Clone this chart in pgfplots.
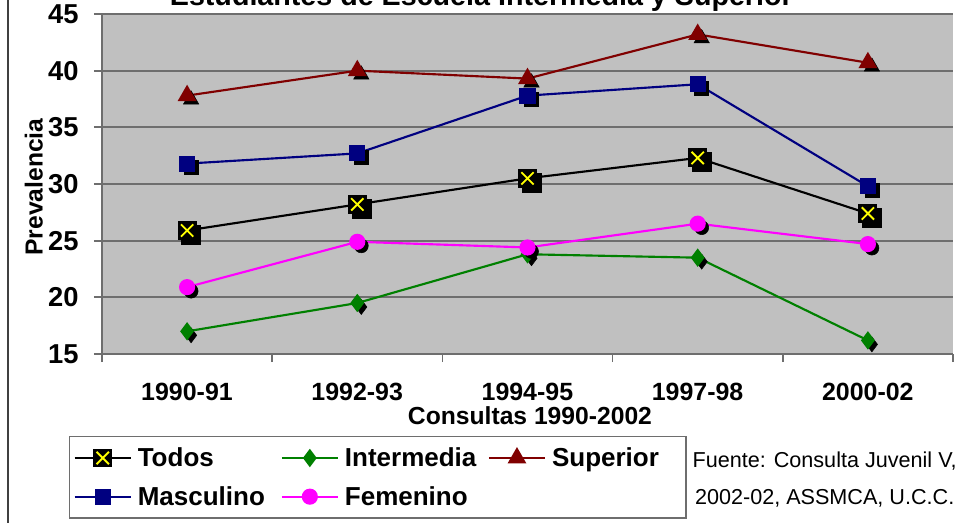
\documentclass[border=0pt]{standalone}
\usepackage{fontspec}
\setmainfont{Liberation Sans}
\usepackage{pgfplots}
\usepackage{pgfplotstable}
\pgfplotsset{compat=1.18}

\definecolor{plotbg}{HTML}{C0C0C0}
\definecolor{gridc}{HTML}{6E6E6E}
\definecolor{framec}{HTML}{404040}
\definecolor{supc}{HTML}{800000}
\definecolor{masc}{HTML}{000080}
\definecolor{intc}{HTML}{008000}
\definecolor{femc}{HTML}{FF00FF}
\definecolor{xyel}{HTML}{FFFF00}

% black square with a yellow cross (series "Todos")
\pgfdeclareplotmark{boxx}{%
  \pgfpathrectangle{\pgfqpoint{-\pgfplotmarksize}{-\pgfplotmarksize}}{\pgfqpoint{2\pgfplotmarksize}{2\pgfplotmarksize}}%
  \pgfsetfillcolor{black}%
  \pgfusepathqfill
  \pgfsetstrokecolor{xyel}%
  \pgfsetlinewidth{1.4pt}%
  \pgfpathmoveto{\pgfqpoint{-0.65\pgfplotmarksize}{-0.65\pgfplotmarksize}}%
  \pgfpathlineto{\pgfqpoint{0.65\pgfplotmarksize}{0.65\pgfplotmarksize}}%
  \pgfpathmoveto{\pgfqpoint{-0.65\pgfplotmarksize}{0.65\pgfplotmarksize}}%
  \pgfpathlineto{\pgfqpoint{0.65\pgfplotmarksize}{-0.65\pgfplotmarksize}}%
  \pgfusepathqstroke
}

% prevalence by survey period
\pgfplotstableread{
idx todos intermedia superior masculino femenino
0   25.9  17.0       37.8     31.8      20.9
1   28.2  19.5       40.0     32.7      24.9
2   30.5  23.8       39.3     37.8      24.4
3   32.3  23.5       43.2     38.8      26.5
4   27.4  16.2       40.7     29.8      24.7
}\datos

\newcommand{\lent}[1]{\makebox[97.5pt][l]{\rule[-4pt]{0pt}{18.5pt}#1}}

\begin{document}
\begin{tikzpicture}
\useasboundingbox (0,0) rectangle (717pt,391.5pt);
\draw[framec, line width=1.5pt] (6pt,-2pt) -- (6pt,400pt);

\node[anchor=base, font=\bfseries\fontsize{21.5}{25}\selectfont] at (361pt,387.4pt)
  {Estudiantes de Escuela Intermedia y Superior};

\begin{axis}[
  at={(76.5pt,126pt)}, anchor=south west,
  scale only axis, width=638.25pt, height=255pt,
  xmin=-0.5, xmax=4.5, ymin=15, ymax=45,
  ytick={15,20,25,30,35,40,45},
  xtick={-0.5,0.5,1.5,2.5,3.5,4.5},
  xticklabels={1990-91,1992-93,1994-95,1997-98,2000-02,},
  axis lines=left,
  axis line style={-, draw=gridc, line width=1.3pt},
  tick align=outside,
  major tick length=6pt,
  tick style={draw=gridc, line width=1.3pt},
  ymajorgrids,
  grid style={draw=gridc, line width=1.3pt},
  axis background/.style={fill=plotbg},
  /pgf/number format/assume math mode=true,
  xticklabel style={font=\bfseries\fontsize{18.7}{22}\selectfont,
    xshift=63.75pt, anchor=base, yshift=-28.5pt},
  yticklabel style={font=\bfseries\fontsize{20.5}{24}\selectfont,
    anchor=east, xshift=-8pt},
  xlabel={Consultas 1990-2002},
  ylabel={Prevalencia},
  label style={font=\bfseries\fontsize{18.5}{22}\selectfont},
  xlabel style={at={(axis description cs:0.5029,-0.2088)}, anchor=base},
  ylabel style={at={(axis description cs:-0.0800,0.491)}, anchor=center},
  clip=false,
  legend columns=3,
  legend cell align=left,
  legend image code/.code={%
    \draw[mark repeat=2, mark phase=2] plot coordinates {(0pt,0pt) (21pt,0pt) (42pt,0pt)};},
  legend style={
    at={(-0.0388,-0.2412)}, anchor=north west,
    draw=gridc, line width=1pt, fill=white,
    font=\bfseries\fontsize{19.5}{22}\selectfont,
    inner xsep=3pt, inner ysep=8pt,
    row sep=13pt,
    nodes={inner sep=0pt},
    /tikz/every odd column/.append style={column sep=4.5pt},
    /tikz/every even column/.append style={column sep=9.75pt},
  },
]

% Todos
\addplot[forget plot, only marks, mark=square*, mark size=7.1pt,
  mark options={draw=black, fill=black, xshift=3pt, yshift=-3pt}]
  table[x=idx, y=todos] {\datos};
\addplot[black, line width=1.6pt, mark=boxx, mark size=7.1pt, mark options={solid}]
  table[x=idx, y=todos] {\datos};
\addlegendentry{\lent{Todos}}

% Intermedia
\addplot[forget plot, only marks, mark=diamond*, mark size=5.6pt,
  mark options={draw=black, fill=black, xshift=3pt, yshift=-3pt}]
  table[x=idx, y=intermedia] {\datos};
\addplot[intc, line width=1.6pt, mark=diamond*, mark size=5.6pt,
  mark options={solid, fill=intc, draw=intc}]
  table[x=idx, y=intermedia] {\datos};
\addlegendentry{\lent{Intermedia}}

% Superior
\addplot[forget plot, only marks, mark=triangle*, mark size=6.6pt,
  mark options={draw=black, fill=black, xshift=3pt, yshift=-3pt}]
  table[x=idx, y=superior] {\datos};
\addplot[supc, line width=1.6pt, mark=triangle*, mark size=6.6pt,
  mark options={solid, fill=supc, draw=supc}]
  table[x=idx, y=superior] {\datos};
\addlegendentry{\lent{Superior}}

% Masculino
\addplot[forget plot, only marks, mark=square*, mark size=5.25pt,
  mark options={draw=black, fill=black, xshift=3pt, yshift=-3pt}]
  table[x=idx, y=masculino] {\datos};
\addplot[masc, line width=1.6pt, mark=square*, mark size=5.25pt,
  mark options={solid, fill=masc, draw=masc}]
  table[x=idx, y=masculino] {\datos};
\addlegendentry{\lent{Masculino}}

% Femenino
\addplot[forget plot, only marks, mark=*, mark size=5.25pt,
  mark options={draw=black, fill=black, xshift=3pt, yshift=-3pt}]
  table[x=idx, y=femenino] {\datos};
\addplot[femc, line width=1.6pt, mark=*, mark size=5.25pt,
  mark options={solid, fill=femc, draw=femc}]
  table[x=idx, y=femenino] {\datos};
\addlegendentry{\lent{Femenino}}

\end{axis}

\node[anchor=base, font=\fontsize{16.2}{18}\selectfont] at (618.5pt,41.25pt)
  {Fuente: Consulta Juvenil V,};
\node[anchor=base, font=\fontsize{16.2}{18}\selectfont] at (618.5pt,13.5pt)
  {2002-02, ASSMCA, U.C.C.};
\end{tikzpicture}
\end{document}
